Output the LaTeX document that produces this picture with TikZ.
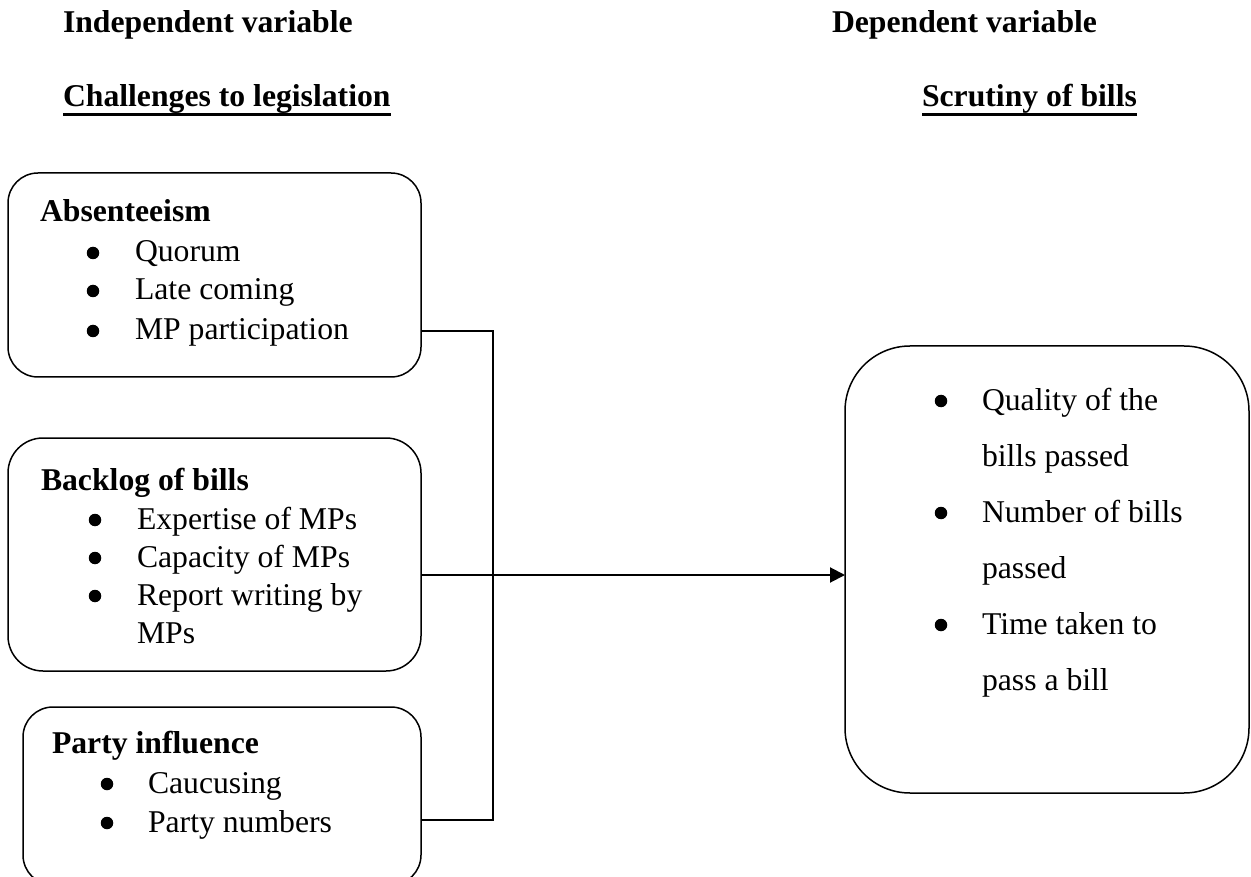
\documentclass[tikz,border=0pt]{standalone}
\usepackage{fontspec}
\setmainfont{Liberation Serif}
\usetikzlibrary{arrows.meta}
\begin{document}
\begin{tikzpicture}[x=1pt,y=-1pt,
  box/.style={draw, line width=1.5pt, anchor=north west, outer sep=0pt, inner sep=0pt},
  txt/.style={anchor=base west, inner sep=0pt, outer sep=0pt, font=\fontsize{31.7}{38}\selectfont},
  hdr/.style={txt, font=\fontsize{31.7}{38}\selectfont\bfseries},
  bul/.style={circle, fill=black, inner sep=0pt, minimum size=12.5pt},
  conn/.style={line width=2pt},
  uline/.style={line width=3pt}]
\useasboundingbox (0,0) rectangle (1251,877);
\clip (0,0) rectangle (1251,877);

% headers
\node[hdr] (h1) at (63,33) {Independent variable};
\node[hdr] (h2) at (832,33) {Dependent variable};
\node[hdr] (h3) at (63,107) {Challenges to legislation};
\node[hdr] (h4) at (922,107) {Scrutiny of bills};
\draw[uline] ([yshift=-8pt]h3.base west) -- ([yshift=-8pt]h3.base east);
\draw[uline] ([yshift=-8pt]h4.base west) -- ([yshift=-8pt]h4.base east);

% boxes
\node[box, rounded corners=30pt, minimum width=413pt, minimum height=204pt] (b1) at (8,173) {};
\node[box, rounded corners=35pt, minimum width=413pt, minimum height=233pt] (b2) at (8,438) {};
\node[box, rounded corners=30pt, minimum width=398pt, minimum height=178pt] (b3) at (23,707) {};
\node[box, rounded corners=65pt, minimum width=404pt, minimum height=447pt] (b4) at (845,346) {};

% box 1
\node[hdr] (t1) at (40,222) {Absenteeism};
\node[bul] (p11) at (93,253) {};
\node[txt] (t11) at (135,262) {Quorum};
\node[bul] (p12) at (93,291) {};
\node[txt] (t12) at (135,300) {Late coming};
\node[bul] (p13) at (93,331) {};
\node[txt] (t13) at (135,340) {MP participation};

% box 2
\node[hdr] (t2) at (41,490) {Backlog of bills};
\node[bul] (p21) at (95,520) {};
\node[txt] (t21) at (137,529) {Expertise of MPs};
\node[bul] (p22) at (95,558) {};
\node[txt] (t22) at (137,567) {Capacity of MPs};
\node[bul] (p23) at (95,596) {};
\node[txt] (t23) at (137,605) {Report writing by};
\node[txt] (t24) at (137,643) {MPs};

% box 3
\node[hdr] (t3) at (52,753) {Party influence};
\node[bul] (p31) at (107,784) {};
\node[txt] (t31) at (148,793) {Caucusing};
\node[bul] (p32) at (107,823) {};
\node[txt] (t32) at (148,832) {Party numbers};

% box 4
\node[bul] (p41) at (941,401) {};
\node[txt] (t41) at (982,410) {Quality of the};
\node[txt] (t42) at (982,466) {bills passed};
\node[bul] (p42) at (941,513) {};
\node[txt] (t43) at (982,522) {Number of bills};
\node[txt] (t44) at (982,578) {passed};
\node[bul] (p43) at (941,625) {};
\node[txt] (t45) at (982,634) {Time taken to};
\node[txt] (t46) at (982,690) {pass a bill};

% connectors
\coordinate (j1) at (493,331);
\coordinate (j2) at (493,820);
\coordinate (ar) at (0,575);
\draw[conn] (b1.east |- j1) -- (j1) -- (j2) -- (b3.east |- j2);
\draw[conn, -{Triangle[length=15pt,width=15pt]}] (b2.east |- ar) -- (b4.west |- ar);
\end{tikzpicture}
\end{document}
